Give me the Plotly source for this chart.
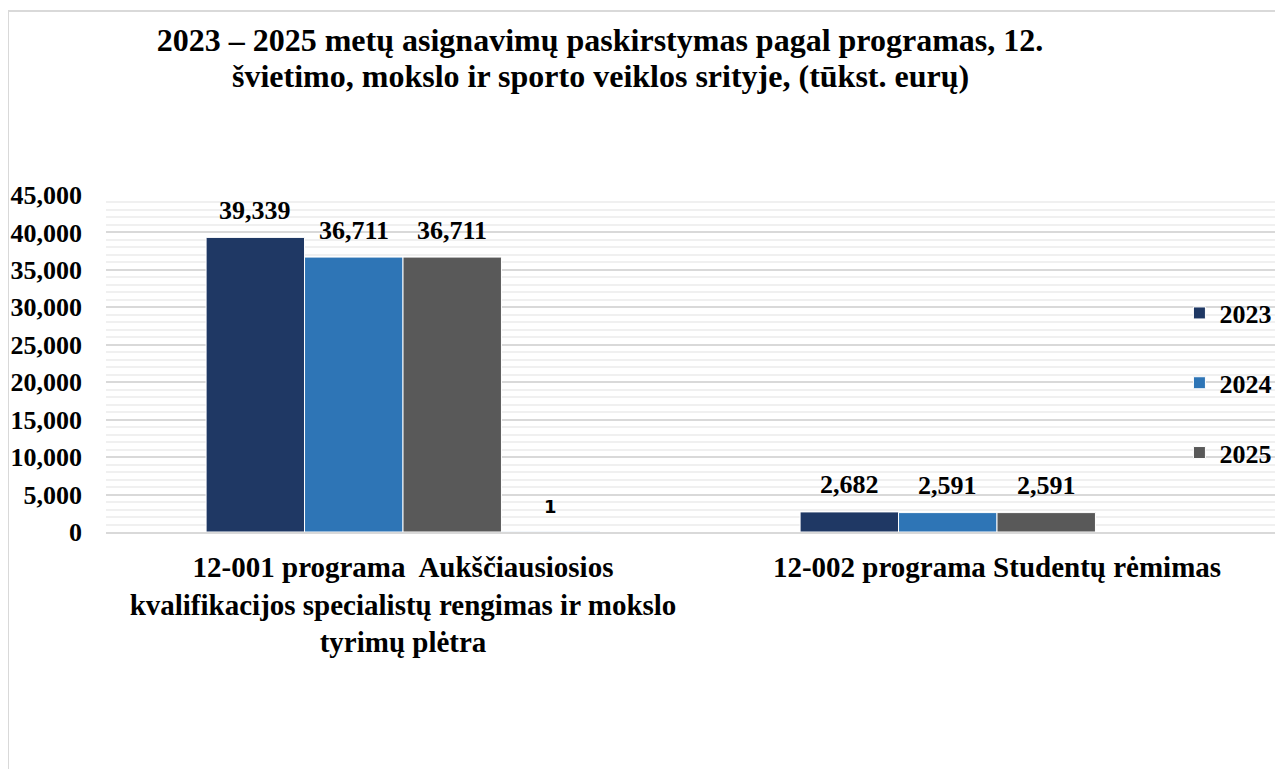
import plotly.graph_objects as go

categories = [
    "12-001 programa  Aukščiausiosios<br>kvalifikacijos specialistų rengimas ir mokslo<br>tyrimų plėtra",
    "12-002 programa Studentų rėmimas",
]
years = ["2023", "2024", "2025"]
values_2023 = [39339, 2682]
values_2024 = [36711, 2591]
values_2025 = [36711, 2591]
extra_values = [1, None]
colors = ["#1f3864", "#2e75b6", "#595959"]

# page body has an 8px margin, so the figure is offset by 8px
W, H = 1275, 761
L, R, T, B = 98, 0, 187, 237
plot_w = W - L - R
plot_h = H - T - B

bargap = 0.337
n_slots = 4
slot = (1 - bargap) / n_slots

fig = go.Figure()
annotations = []
series = [values_2023, values_2024, values_2025]
for i, (name, vals, col) in enumerate(zip(years, series, colors)):
    fig.add_trace(go.Bar(
        x=categories, y=vals, name=name,
        marker=dict(color=col, line=dict(color="white", width=1)),
        legendgroup=name,
    ))
    for j, v in enumerate(vals):
        annotations.append(dict(
            x=j + (i - (n_slots - 1) / 2) * slot, y=v, xref="x", yref="y",
            text=f"{v:,}", showarrow=False, yanchor="middle", yshift=27,
            font=dict(family="Liberation Serif", size=26, color="black", weight="bold"),
        ))
fig.add_trace(go.Bar(
    x=categories, y=extra_values, name="", showlegend=False,
    marker=dict(color="#a5a5a5"),
))
for j, v in enumerate(extra_values):
    if v is not None:
        annotations.append(dict(
            x=j + (3 - (n_slots - 1) / 2) * slot, y=v, xref="x", yref="y",
            text=str(v), showarrow=False, yanchor="middle", yshift=25,
            font=dict(family="DejaVu Sans", size=18, color="black", weight="bold"),
        ))

title_font = dict(family="Liberation Serif", size=32, color="black", weight="bold")
annotations.append(dict(
    text="švietimo, mokslo ir sporto veiklos srityje, (tūkst. eurų)",
    xref="paper", yref="paper", x=(592 - L) / plot_w, y=(T + plot_h - 68) / plot_h,
    xanchor="center", yanchor="middle", showarrow=False, font=title_font,
))

fig.update_layout(
    width=W, height=H,
    margin=dict(l=L, r=R, t=T, b=B, autoexpand=False),
    paper_bgcolor="white", plot_bgcolor="white",
    barmode="group", bargap=bargap, bargroupgap=0,
    title=dict(
        text="2023 – 2025 metų asignavimų paskirstymas pagal programas, 12.",
        x=592 / W, xanchor="center", xref="container",
        y=1 - 32 / H, yanchor="middle", yref="container",
        font=title_font,
    ),
    showlegend=True,
    legend=dict(
        x=0.912, xanchor="left", y=0.442, yanchor="middle",
        font=dict(family="Liberation Serif", size=26, color="black", weight="bold"),
        tracegroupgap=33, bgcolor="rgba(0,0,0,0)", itemwidth=30,
    ),
    xaxis=dict(
        type="category",
        range=[-0.5, -0.5 + plot_w / 594],
        showgrid=False, showline=True, linecolor="#d9d9d9", linewidth=2,
        ticks="", ticklabelstandoff=8,
        tickfont=dict(family="Liberation Serif", size=29, color="black", weight="bold"),
    ),
    yaxis=dict(
        range=[0, 45000], dtick=5000, tickformat=",d",
        showgrid=True, gridcolor="#d9d9d9", gridwidth=2,
        minor=dict(dtick=1000, showgrid=True, gridcolor="#f0f0f0", gridwidth=2),
        zeroline=False, showline=False, ticks="", ticklabelstandoff=23,
        tickfont=dict(family="Liberation Serif", size=26, color="black", weight="bold"),
    ),
    annotations=annotations,
    shapes=[dict(
        type="rect", xref="paper", yref="paper",
        x0=(0 - L) / plot_w, x1=1.05,
        y0=-1.0, y1=(T + plot_h - 3) / plot_h,
        line=dict(color="#d9d9d9", width=2), fillcolor="rgba(0,0,0,0)", layer="below",
    )],
)

fig.write_html("out.html")
